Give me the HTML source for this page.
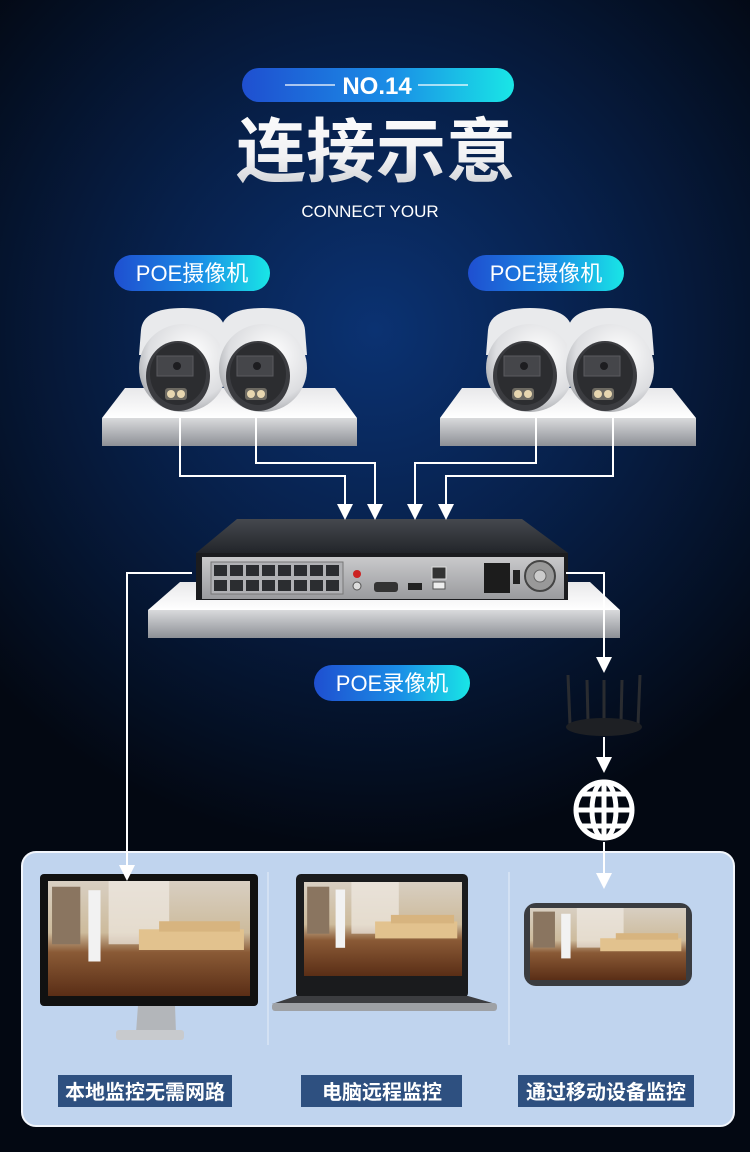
<!DOCTYPE html>
<html><head><meta charset="utf-8">
<style>
html,body{margin:0;padding:0;}
body{width:750px;height:1152px;overflow:hidden;background:#040a16;font-family:"Liberation Sans","Noto Sans CJK SC",sans-serif;}
</style></head><body>
<svg width="750" height="1152" viewBox="0 0 750 1152" xmlns="http://www.w3.org/2000/svg" style="display:block">
<defs>
<radialGradient id="bg" cx="375" cy="330" r="520" gradientUnits="userSpaceOnUse">
<stop offset="0" stop-color="#0b3272"/><stop offset="0.45" stop-color="#07204a"/><stop offset="1" stop-color="#030812"/>
</radialGradient>
<linearGradient id="pill" x1="0" x2="1"><stop offset="0" stop-color="#1f4fd0"/><stop offset="0.55" stop-color="#1a8ee6"/><stop offset="1" stop-color="#19e6e6"/></linearGradient>
<linearGradient id="title" x1="0" y1="0" x2="0" y2="1"><stop offset="0" stop-color="#ffffff"/><stop offset="0.6" stop-color="#f2f2f4"/><stop offset="1" stop-color="#c4c7cc"/></linearGradient>
<linearGradient id="front" x1="0" y1="0" x2="0" y2="1"><stop offset="0" stop-color="#d9dadc"/><stop offset="1" stop-color="#8d9096"/></linearGradient>
<linearGradient id="topf" x1="0" y1="0" x2="0" y2="1"><stop offset="0" stop-color="#e8e8ea"/><stop offset="1" stop-color="#ffffff"/></linearGradient>
<linearGradient id="nvrtop" x1="0" y1="0" x2="0" y2="1"><stop offset="0" stop-color="#45484e"/><stop offset="1" stop-color="#22252a"/></linearGradient>
<linearGradient id="panel" x1="0" y1="0" x2="0" y2="1"><stop offset="0" stop-color="#c9c9cb"/><stop offset="1" stop-color="#9a9b9e"/></linearGradient>
<radialGradient id="ball" cx="0.6" cy="0.35" r="0.7"><stop offset="0" stop-color="#ffffff"/><stop offset="0.7" stop-color="#dcdde0"/><stop offset="1" stop-color="#a4a6aa"/></radialGradient>
<linearGradient id="room" x1="0" y1="0" x2="0" y2="1"><stop offset="0" stop-color="#d8cfc2"/><stop offset="0.45" stop-color="#cdbb9c"/><stop offset="0.62" stop-color="#8a5a36"/><stop offset="1" stop-color="#5a2e16"/></linearGradient>
<g id="cam">
<path d="M-42,-30 Q-40,-52 0,-52 Q40,-52 42,-30 L44,-5 L-44,-5 Z" fill="#e9eaec"/>
<circle cx="0" cy="8" r="44" fill="url(#ball)"/>
<ellipse cx="-5" cy="16" rx="32" ry="35" fill="#3b3c40"/>
<ellipse cx="-5" cy="14" rx="28" ry="31" fill="#2c2d30"/>
<rect x="-26" y="-4" width="36" height="20" fill="#45464a" stroke="#5a5b5f"/>
<circle cx="-6" cy="6" r="4" fill="#1d1d20"/>
<rect x="-18" y="28" width="22" height="12" rx="3" fill="#6d6a62"/>
<circle cx="-12" cy="34" r="4" fill="#e8d7b0"/><circle cx="-2" cy="34" r="4" fill="#e8d7b0"/>
</g>
<g id="arr"><path d="M-8,-16 L8,-16 L0,0 Z" fill="#fff"/></g>
<g id="scr">
<rect x="0" y="0" width="100" height="100" fill="url(#room)"/>
<rect x="30" y="0" width="30" height="55" fill="#efeae2" opacity="0.7"/>
<rect x="2" y="5" width="14" height="50" fill="#8a7560"/>
<rect x="20" y="8" width="6" height="62" fill="#f2f2f2"/>
<rect x="45" y="42" width="52" height="18" fill="#e2c28e"/>
<rect x="55" y="35" width="40" height="9" fill="#d7b47f"/>
</g>
</defs>
<rect width="750" height="1152" fill="url(#bg)"/>

<!-- header -->
<rect x="242" y="68" width="272" height="34" rx="17" fill="url(#pill)"/>
<line x1="285" y1="85" x2="335" y2="85" stroke="#fff" stroke-width="1.3"/>
<line x1="418" y1="85" x2="468" y2="85" stroke="#fff" stroke-width="1.3"/>
<text x="377" y="94" text-anchor="middle" font-size="24" font-weight="bold" fill="#fff">NO.14</text>
<text x="376" y="176" text-anchor="middle" font-size="70" font-weight="bold" fill="url(#title)" font-family="'Noto Sans CJK SC',sans-serif">连接示意</text>
<text x="370" y="217" text-anchor="middle" font-size="17" fill="#fff">CONNECT YOUR</text>

<!-- camera pills -->
<rect x="114" y="255" width="156" height="36" rx="18" fill="url(#pill)"/>
<text x="192" y="281" text-anchor="middle" font-size="22" fill="#fff">POE摄像机</text>
<rect x="468" y="255" width="156" height="36" rx="18" fill="url(#pill)"/>
<text x="546" y="281" text-anchor="middle" font-size="22" fill="#fff">POE摄像机</text>

<!-- platforms -->
<polygon points="125,388 335,388 357,418 102,418" fill="url(#topf)"/>
<rect x="102" y="418" width="255" height="28" fill="url(#front)"/>
<polygon points="462,388 672,388 696,418 440,418" fill="url(#topf)"/>
<rect x="440" y="418" width="256" height="28" fill="url(#front)"/>

<use href="#cam" x="183" y="360"/>
<use href="#cam" x="263" y="360"/>
<use href="#cam" x="530" y="360"/>
<use href="#cam" x="610" y="360"/>

<!-- NVR platform -->
<polygon points="180,582 590,582 620,610 148,610" fill="url(#topf)"/>
<rect x="148" y="610" width="472" height="28" fill="url(#front)"/>
<!-- NVR -->
<polygon points="237,519 522,519 568,553 196,553" fill="url(#nvrtop)"/>
<rect x="196" y="553" width="372" height="47" fill="#1b1c1f"/>
<rect x="202" y="557" width="362" height="42" fill="url(#panel)"/>
<rect x="211" y="562" width="132" height="32" fill="#b0b1b4" stroke="#777"/>
<g fill="#2b2d30">
<rect x="214" y="565" width="13" height="11"/><rect x="230" y="565" width="13" height="11"/><rect x="246" y="565" width="13" height="11"/><rect x="262" y="565" width="13" height="11"/><rect x="278" y="565" width="13" height="11"/><rect x="294" y="565" width="13" height="11"/><rect x="310" y="565" width="13" height="11"/><rect x="326" y="565" width="13" height="11"/>
<rect x="214" y="580" width="13" height="11"/><rect x="230" y="580" width="13" height="11"/><rect x="246" y="580" width="13" height="11"/><rect x="262" y="580" width="13" height="11"/><rect x="278" y="580" width="13" height="11"/><rect x="294" y="580" width="13" height="11"/><rect x="310" y="580" width="13" height="11"/><rect x="326" y="580" width="13" height="11"/>
</g>
<circle cx="357" cy="574" r="4" fill="#c22"/><circle cx="357" cy="586" r="4" fill="#ddd" stroke="#555"/>
<rect x="374" y="582" width="24" height="10" rx="3" fill="#333"/>
<rect x="408" y="583" width="14" height="7" fill="#222"/>
<rect x="432" y="567" width="14" height="12" fill="#333" stroke="#ddd"/>
<rect x="433" y="582" width="12" height="7" fill="#eee" stroke="#555"/>
<rect x="484" y="563" width="26" height="30" fill="#1c1c1c"/>
<rect x="513" y="570" width="7" height="14" fill="#222"/>
<circle cx="540" cy="576" r="15" fill="#999" stroke="#444" stroke-width="2"/>
<circle cx="540" cy="576" r="6" fill="#ccc" stroke="#666"/>

<!-- NVR pill -->
<rect x="314" y="665" width="156" height="36" rx="18" fill="url(#pill)"/>
<text x="392" y="691" text-anchor="middle" font-size="22" fill="#fff">POE录像机</text>

<!-- router -->
<g stroke="#2a2c30" stroke-width="3">
<line x1="568" y1="675" x2="570" y2="725"/><line x1="587" y1="680" x2="588" y2="722"/>
<line x1="604" y1="680" x2="604" y2="722"/><line x1="622" y1="680" x2="621" y2="722"/>
<line x1="640" y1="675" x2="638" y2="725"/>
</g>
<ellipse cx="604" cy="727" rx="38" ry="9" fill="#1e2024"/>
<!-- globe -->
<g stroke="#fff" stroke-width="5" fill="none">
<circle cx="604" cy="810" r="28"/>
<ellipse cx="604" cy="810" rx="12" ry="28"/>
<line x1="604" y1="782" x2="604" y2="838"/>
<line x1="576" y1="810" x2="632" y2="810"/>
<path d="M582,794 H626 M582,826 H626"/>
</g>

<!-- bottom panel -->
<rect x="22" y="852" width="712" height="274" rx="14" fill="#c0d4ee" stroke="#f2f6fc" stroke-width="2"/>
<line x1="268" y1="872" x2="268" y2="1045" stroke="#e6eef8" stroke-width="1"/>
<line x1="509" y1="872" x2="509" y2="1045" stroke="#e6eef8" stroke-width="1"/>

<!-- monitor -->
<path d="M124,1005 L138,1005 L136,1033 L176,1033 L175,1005 L125,1005 Z" fill="#b3b6ba"/>
<rect x="116" y="1030" width="68" height="10" rx="3" fill="#c8cacd"/>
<rect x="40" y="874" width="218" height="132" rx="4" fill="#111"/>
<svg x="48" y="881" width="202" height="115" viewBox="0 0 100 100" preserveAspectRatio="none"><use href="#scr"/></svg>
<!-- laptop -->
<rect x="296" y="874" width="172" height="124" rx="5" fill="#1a1b1d"/>
<svg x="304" y="882" width="158" height="94" viewBox="0 0 100 100" preserveAspectRatio="none"><use href="#scr"/></svg>
<polygon points="296,996 468,996 496,1004 272,1004" fill="#3c3d40"/>
<rect x="272" y="1003" width="225" height="8" rx="3" fill="#9ea1a5"/>
<!-- phone -->
<rect x="524" y="903" width="168" height="83" rx="12" fill="#3a3c40"/>
<svg x="530" y="908" width="156" height="72" viewBox="0 0 100 100" preserveAspectRatio="none"><use href="#scr"/></svg>

<!-- cables (drawn on top) -->
<g stroke="#fff" stroke-width="2" fill="none">
<polyline points="180,418 180,476 345,476 345,505"/>
<polyline points="256,418 256,463 375,463 375,505"/>
<polyline points="536,418 536,463 415,463 415,505"/>
<polyline points="613,418 613,476 446,476 446,505"/>
<polyline points="192,573 127,573 127,866"/>
<polyline points="566,573 604,573 604,660"/>
<line x1="604" y1="737" x2="604" y2="760"/>
<line x1="604" y1="842" x2="604" y2="874"/>
</g>
<use href="#arr" x="345" y="520"/><use href="#arr" x="375" y="520"/>
<use href="#arr" x="415" y="520"/><use href="#arr" x="446" y="520"/>
<use href="#arr" x="127" y="881"/>
<use href="#arr" x="604" y="673"/>
<use href="#arr" x="604" y="773"/>
<use href="#arr" x="604" y="889"/>

<!-- labels -->
<rect x="58" y="1075" width="174" height="32" fill="#2e5080"/>
<text x="145" y="1099" text-anchor="middle" font-size="20" font-weight="bold" fill="#fff">本地监控无需网路</text>
<rect x="301" y="1075" width="161" height="32" fill="#2e5080"/>
<text x="382" y="1099" text-anchor="middle" font-size="20" font-weight="bold" fill="#fff">电脑远程监控</text>
<rect x="518" y="1075" width="176" height="32" fill="#2e5080"/>
<text x="606" y="1099" text-anchor="middle" font-size="20" font-weight="bold" fill="#fff">通过移动设备监控</text>
</svg>
</body></html>
